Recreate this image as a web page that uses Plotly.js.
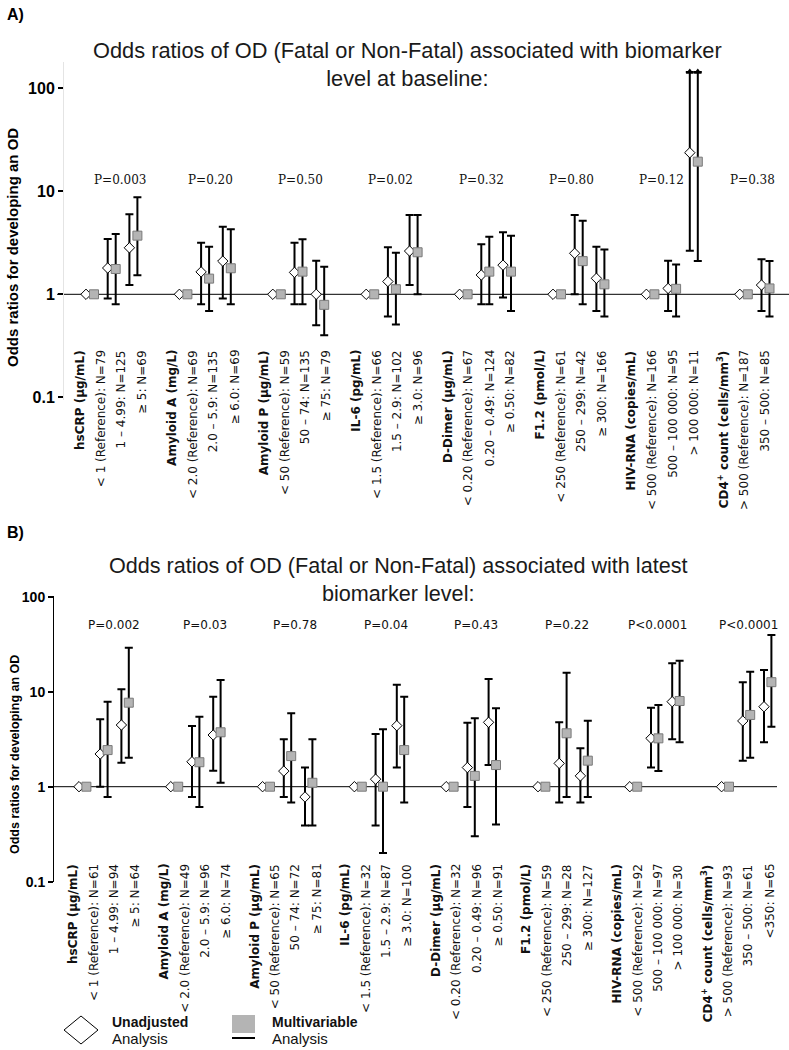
<!DOCTYPE html>
<html>
<head>
<meta charset="utf-8">
<script src="https://cdn.plot.ly/plotly-3.0.1.min.js"></script>
<style>html,body{margin:0;padding:0;background:#fff;}#chart{width:789px;height:1050px;}</style>
</head>
<body>
<div id="chart"></div>
<script>
// ================= DATA =================
const biomarkers = ['hsCRP (µg/mL)', 'Amyloid A (mg/L)', 'Amyloid P (µg/mL)', 'IL-6 (pg/mL)',
  'D-Dimer (µg/mL)', 'F1.2 (pmol/L)', 'HIV-RNA (copies/mL)', 'CD4<sup>+</sup> count (cells/mm<sup>3</sup>)'];

// ---- Panel A: biomarker level at baseline ----
const levelsA = [
  ['< 1 (Reference): N=79', '1 – 4.99: N=125', '≥ 5: N=69'],
  ['< 2.0 (Reference): N=69', '2.0 – 5.9: N=135', '≥ 6.0: N=69'],
  ['< 50 (Reference): N=59', '50 – 74: N=135', '≥ 75: N=79'],
  ['< 1.5 (Reference): N=66', '1.5 – 2.9: N=102', '≥ 3.0: N=96'],
  ['< 0.20 (Reference): N=67', '0.20 – 0.49: N=124', '≥ 0.50: N=82'],
  ['< 250 (Reference): N=61', '250 – 299: N=42', '≥ 300: N=166'],
  ['< 500 (Reference): N=166', '500 – 100 000: N=95', '> 100 000: N=11'],
  ['> 500 (Reference): N=187', '350 – 500: N=85']
];
const pValuesA = ['P=0.003', 'P=0.20', 'P=0.50', 'P=0.02', 'P=0.32', 'P=0.80', 'P=0.12', 'P=0.38'];
const unadjOR_A = [[1, 1.80, 2.83], [1, 1.65, 2.10], [1, 1.63, 1.00], [1, 1.33, 2.63], [1, 1.54, 1.92], [1, 2.50, 1.43], [1, 1.14, 23.7], [1, 1.23]];
const unadjLo_A = [[null, 0.91, 1.23], [null, 0.80, 0.91], [null, 0.80, 0.50], [null, 0.61, 1.23], [null, 0.80, 0.93], [null, 1.00, 0.69], [null, 0.69, 2.65], [null, 0.69]];
const unadjHi_A = [[null, 3.44, 5.98], [null, 3.17, 4.53], [null, 3.17, 2.12], [null, 2.86, 5.89], [null, 3.06, 4.00], [null, 5.89, 2.90], [null, 2.12, 144], [null, 2.19]];
const multiOR_A = [[1, 1.76, 3.71], [1, 1.42, 1.79], [1, 1.66, 0.79], [1, 1.12, 2.56], [1, 1.66, 1.66], [1, 2.10, 1.25], [1, 1.13, 19.4], [1, 1.14]];
const multiLo_A = [[null, 0.80, 1.53], [null, 0.69, 0.80], [null, 0.80, 0.40], [null, 0.51, 1.00], [null, 0.80, 0.69], [null, 0.80, 0.61], [null, 0.61, 2.10], [null, 0.61]];
const multiHi_A = [[null, 3.85, 8.74], [null, 2.90, 4.27], [null, 3.42, 1.85], [null, 2.53, 5.89], [null, 3.62, 3.71], [null, 5.18, 2.73], [null, 1.95, 144], [null, 2.10]];

// ---- Panel B: latest biomarker level ----
const levelsB = [
  ['< 1 (Reference): N=61', '1 – 4.99: N=94', '≥ 5: N=64'],
  ['< 2.0 (Reference): N=49', '2.0 – 5.9: N=96', '≥ 6.0: N=74'],
  ['< 50 (Reference): N=65', '50 – 74: N=72', '≥ 75: N=81'],
  ['< 1.5 (Reference): N=32', '1.5 – 2.9: N=87', '≥ 3.0: N=100'],
  ['< 0.20 (Reference): N=32', '0.20 – 0.49: N=96', '≥ 0.50: N=91'],
  ['< 250 (Reference): N=59', '250 – 299: N=28', '≥ 300: N=127'],
  ['< 500 (Reference): N=92', '500 – 100 000: N=97', '> 100 000: N=30'],
  ['> 500 (Reference): N=93', '350 – 500: N=61', '<350: N=65']
];
const pValuesB = ['P=0.002', 'P=0.03', 'P=0.78', 'P=0.04', 'P=0.43', 'P=0.22', 'P<0.0001', 'P<0.0001'];
const unadjOR_B = [[1, 2.21, 4.46], [1, 1.83, 3.50], [1, 1.46, 0.78], [1, 1.20, 4.39], [1, 1.59, 4.76], [1, 1.76, 1.30], [1, 3.23, 7.85], [1, 4.92, 6.95]];
const unadjLo_B = [[null, 1.00, 1.79], [null, 0.78, 1.47], [null, 0.78, 0.39], [null, 0.39, 1.59], [null, 0.61, 1.69], [null, 0.68, 0.68], [null, 1.59, 3.15], [null, 1.88, 2.93]];
const unadjHi_B = [[null, 5.12, 10.6], [null, 4.35, 8.86], [null, 3.15, 1.59], [null, 3.59, 11.8], [null, 4.72, 13.6], [null, 4.76, 2.54], [null, 6.79, 19.9], [null, 12.6, 16.9]];
const multiOR_B = [[1, 2.43, 7.66], [1, 1.81, 3.74], [1, 2.10, 1.10], [1, 1.00, 2.43], [1, 1.30, 1.69], [1, 3.65, 1.88], [1, 3.23, 7.98], [1, 5.69, 12.6]];
const multiLo_B = [[null, 0.78, 2.02], [null, 0.61, 1.10], [null, 0.68, 0.39], [null, 0.20, 0.68], [null, 0.30, 0.40], [null, 0.78, 0.78], [null, 1.46, 2.93], [null, 2.02, 4.28]];
const multiHi_B = [[null, 7.85, 29.0], [null, 5.46, 13.3], [null, 5.92, 3.15], [null, 4.02, 8.86], [null, 5.25, 6.68], [null, 15.8, 4.95], [null, 7.24, 21.2], [null, 16.2, 39.5]];

const yTicks = [0.1, 1, 10, 100];
const yTickText = ['0.1', '1', '10', '100'];

// ================= LAYOUT HELPERS =================
const W = 789, H = 1050;
const px = v => v / W;
const py = v => 1 - v / H;
const SANS = 'Liberation Sans, Arial, sans-serif';
const VERD = 'DejaVu Sans, Verdana, sans-serif';

const geomA = { groupX0: 90, groupStep: 93.4, levelStep: 21.7, pair: 4,
  labelX0: 80, labelGroupStep: 91.9, labelLevelStep: 20.7, labelTop: 348,
  pX0: 120, pStep: 90.3, pY: 180, pFont: 'DejaVu Serif, serif',
  one: 294.3, decade: 103, top: 62, bottom: 400, xLeft: 57, xRight: 789, axisX: 63,
  axisLine: '#e4e4e4', tickSize: 16, labelSize: 12 };
const geomB = { groupX0: 82.7, groupStep: 91.8, levelStep: 21.2, pair: 3.7,
  labelX0: 73, labelGroupStep: 90.6, labelLevelStep: 20.6, labelTop: 862,
  pX0: 114, pStep: 90.6, pY: 625, pFont: VERD,
  one: 786.7, decade: 95, top: 596, bottom: 882, xLeft: 50, xRight: 777, axisX: 53,
  axisLine: '#000', tickSize: 14, labelSize: 12 };

const traces = [], annotations = [], shapes = [];
const layout = {
  width: W, height: H, margin: { l: 0, r: 0, t: 0, b: 0 },
  paper_bgcolor: '#fff', plot_bgcolor: 'rgba(0,0,0,0)', showlegend: false,
  font: { family: SANS, color: '#000' }
};

function flatten(arr) { return [].concat(...arr); }

function buildPanel(levels, pValues, uOR, uLo, uHi, mOR, mLo, mHi, G, xa, ya) {
  const xU = [], xM = [];
  levels.forEach((lv, g) => lv.forEach((_, k) => {
    const c = G.groupX0 + g * G.groupStep + k * G.levelStep;
    xU.push(c - G.pair); xM.push(c + G.pair);
  }));
  const series = [
    { x: xU, or: flatten(uOR), lo: flatten(uLo), hi: flatten(uHi),
      marker: { symbol: 'diamond', size: 8, color: '#fff', line: { color: '#000', width: 1 } } },
    { x: xM, or: flatten(mOR), lo: flatten(mLo), hi: flatten(mHi),
      marker: { symbol: 'square', size: 9, color: '#b4b4b4', line: { color: '#7a7a7a', width: 1 } } }
  ];
  const ymax = Math.pow(10, (G.one - G.top) / G.decade - 0.25);
  series.forEach(s => {
    traces.push({
      type: 'scatter', mode: 'markers', x: s.x, y: s.or, xaxis: xa, yaxis: ya,
      marker: s.marker, hoverinfo: 'skip', cliponaxis: false,
      error_y: { type: 'data', symmetric: false,
        array: s.hi.map((h, i) => h == null ? null : h - s.or[i]),
        arrayminus: s.lo.map((l, i) => l == null ? null : s.or[i] - l),
        color: '#000', thickness: 2, width: 4 }
    });
    // arrowheads for confidence limits running off the top of the scale
    const ax = [], ay = [];
    s.hi.forEach((h, i) => { if (h != null && h > ymax) { ax.push(s.x[i]); ay.push(h); } });
    if (ax.length) traces.push({ type: 'scatter', mode: 'markers', x: ax, y: ay, xaxis: xa, yaxis: ya,
      marker: { symbol: 'triangle-up', size: 7, color: '#000' }, hoverinfo: 'skip', cliponaxis: false });
  });

  // reference line at OR = 1
  shapes.push({ type: 'line', xref: xa + ' domain', yref: ya, x0: 0, x1: 1, y0: 1, y1: 1,
    line: { color: '#000', width: 1 }, layer: 'below' });

  // category labels (rotated)
  biomarkers.forEach((b, g) => {
    const texts = ['<b>' + b + '</b>'].concat(levels[g]);
    texts.forEach((t, k) => {
      annotations.push({ xref: xa, yref: 'paper',
        x: G.labelX0 + g * G.labelGroupStep + k * G.labelLevelStep, y: py(G.labelTop),
        xanchor: 'center', yanchor: 'top', textangle: -90, showarrow: false, text: t,
        font: { family: VERD, size: G.labelSize, color: '#111' } });
    });
    annotations.push({ xref: xa, yref: 'paper', x: G.pX0 + g * G.pStep, y: py(G.pY),
      xanchor: 'center', yanchor: 'middle', showarrow: false, text: pValues[g],
      font: { family: G.pFont, size: 12, color: '#111' } });
  });

  const xKey = xa === 'x' ? 'xaxis' : 'xaxis' + xa.slice(1);
  const yKey = ya === 'y' ? 'yaxis' : 'yaxis' + ya.slice(1);
  layout[xKey] = { domain: [px(G.xLeft), px(G.xRight)], range: [G.xLeft, G.xRight], visible: false,
    anchor: ya, fixedrange: true };
  layout[yKey] = { type: 'log', domain: [py(G.bottom), py(G.top)],
    range: [(G.one - G.bottom) / G.decade, (G.one - G.top) / G.decade],
    anchor: 'free', position: px(G.axisX), showline: true, linecolor: G.axisLine, linewidth: 1,
    ticks: 'outside', ticklen: 5, tickwidth: 2, tickcolor: '#000',
    tickvals: yTicks, ticktext: yTickText, showgrid: false, zeroline: false, fixedrange: true,
    tickfont: { family: SANS, size: G.tickSize, color: '#000', weight: 'bold' } };
}

buildPanel(levelsA, pValuesA, unadjOR_A, unadjLo_A, unadjHi_A, multiOR_A, multiLo_A, multiHi_A, geomA, 'x', 'y');
buildPanel(levelsB, pValuesB, unadjOR_B, unadjLo_B, unadjHi_B, multiOR_B, multiLo_B, multiHi_B, geomB, 'x2', 'y2');

// panel letters, titles, y titles
annotations.push(
  { xref: 'paper', yref: 'paper', x: px(5), y: py(15), xanchor: 'left', yanchor: 'middle', showarrow: false,
    text: '<b>A)</b>', font: { family: SANS, size: 16, color: '#000' } },
  { xref: 'paper', yref: 'paper', x: px(5), y: py(532), xanchor: 'left', yanchor: 'middle', showarrow: false,
    text: '<b>B)</b>', font: { family: SANS, size: 16, color: '#000' } },
  { xref: 'paper', yref: 'paper', x: px(407), y: py(64), xanchor: 'center', yanchor: 'middle', showarrow: false,
    align: 'center', text: 'Odds ratios of OD (Fatal or Non-Fatal) associated with biomarker<br>level at baseline:',
    font: { family: SANS, size: 21.8, color: '#1a1a1a' } },
  { xref: 'paper', yref: 'paper', x: px(398), y: py(579), xanchor: 'center', yanchor: 'middle', showarrow: false,
    align: 'center', text: 'Odds ratios of OD (Fatal or Non-Fatal) associated with latest<br>biomarker level:',
    font: { family: SANS, size: 21.6, color: '#1a1a1a' } },
  { xref: 'paper', yref: 'paper', x: px(13), y: py(248), xanchor: 'center', yanchor: 'middle', showarrow: false,
    textangle: -90, text: '<b>Odds ratios for developing an OD</b>', font: { family: SANS, size: 15, color: '#000' } },
  { xref: 'paper', yref: 'paper', x: px(15), y: py(755), xanchor: 'center', yanchor: 'middle', showarrow: false,
    textangle: -90, text: '<b>Odds ratios for developing an OD</b>', font: { family: SANS, size: 12.5, color: '#000' } }
);

// legend (drawn by hand to match the original figure)
shapes.push(
  { type: 'path', xref: 'paper', yref: 'paper',
    path: `M ${px(64)},${py(1030)} L ${px(81)},${py(1016)} L ${px(98)},${py(1030)} L ${px(81)},${py(1044)} Z`,
    fillcolor: '#fff', line: { color: '#000', width: 1 } },
  { type: 'rect', xref: 'paper', yref: 'paper', x0: px(232), x1: px(255), y0: py(1033), y1: py(1015),
    fillcolor: '#b4b4b4', line: { width: 0 } },
  { type: 'line', xref: 'paper', yref: 'paper', x0: px(232), x1: px(255), y0: py(1038), y1: py(1038),
    line: { color: '#000', width: 2 } }
);
[['Unadjusted', 110, 1022, true], ['Analysis', 110, 1038, false],
 ['Multivariable', 270, 1022, true], ['Analysis', 270, 1038, false]].forEach(([t, x, y, b]) => {
  annotations.push({ xref: 'paper', yref: 'paper', x: px(x), y: py(y), xanchor: 'left', yanchor: 'middle',
    showarrow: false, text: b ? '<b>' + t + '</b>' : t, font: { family: SANS, size: b ? 14 : 15, color: '#111' } });
});

layout.annotations = annotations;
layout.shapes = shapes;

Plotly.newPlot('chart', traces, layout, { staticPlot: true, displayModeBar: false });
</script>
</body>
</html>
